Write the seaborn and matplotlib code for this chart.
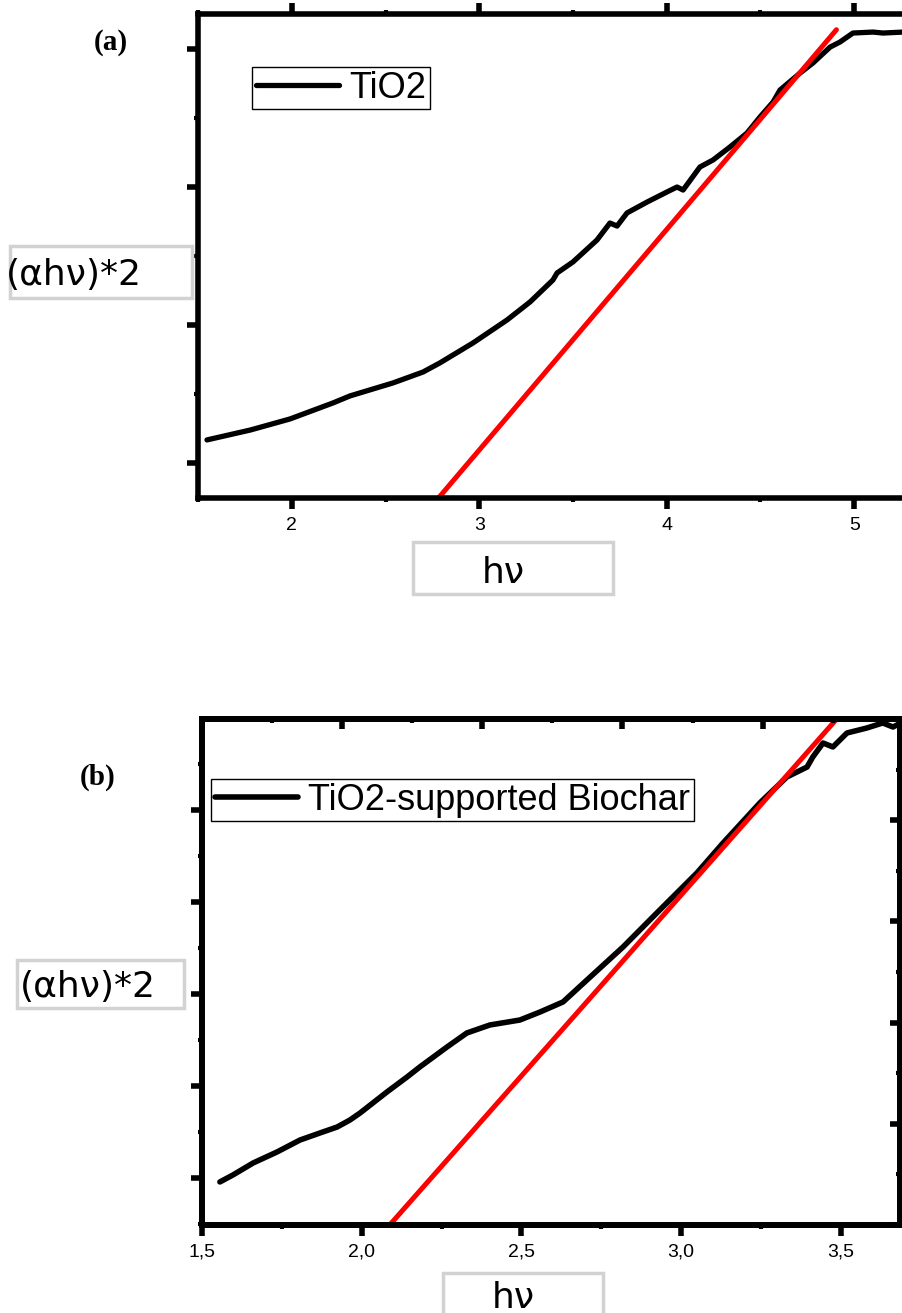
import matplotlib
matplotlib.use("Agg")
import matplotlib.pyplot as plt
import seaborn as sns
from matplotlib.ticker import MultipleLocator, NullFormatter, FixedLocator, FixedFormatter
from matplotlib.patches import Rectangle

# ---- data (y in arbitrary units, no tick labels) ----
# panel (a): TiO2
a_hv = [1.548, 1.78, 1.991, 2.220, 2.311, 2.540, 2.700, 2.79, 2.967, 3.148,
        3.271, 3.393, 3.415, 3.500, 3.628, 3.697, 3.735, 3.788, 3.895, 4.001,
        4.055, 4.087, 4.177, 4.247, 4.337, 4.428, 4.497, 4.567, 4.604, 4.711,
        4.780, 4.871, 4.924, 4.993, 5.100, 5.153, 5.260]
a_abs = [0.167, 0.239, 0.319, 0.435, 0.486, 0.580, 0.659, 0.725, 0.870, 1.036,
         1.167, 1.326, 1.377, 1.457, 1.616, 1.739, 1.717, 1.812, 1.891, 1.964,
         2.000, 1.978, 2.145, 2.196, 2.290, 2.391, 2.507, 2.616, 2.703, 2.826,
         2.899, 3.014, 3.051, 3.116, 3.123, 3.116, 3.123]
a_fit_hv = [2.76, 4.905]
a_fit_abs = [-0.29, 3.14]
a_xticks = [2, 3, 4, 5]
a_xticklabels = ["2", "3", "4", "5"]

# panel (b): TiO2-supported Biochar
b_hv = [1.556, 1.597, 1.660, 1.735, 1.807, 1.869, 1.923, 1.963, 1.995, 2.079,
        2.142, 2.182, 2.267, 2.329, 2.401, 2.495, 2.558, 2.630, 2.705, 2.818,
        2.933, 3.049, 3.131, 3.246, 3.331, 3.394, 3.412, 3.444, 3.475, 3.519,
        3.581, 3.631, 3.663, 3.694]
b_abs = [-0.043, 0.033, 0.163, 0.283, 0.413, 0.489, 0.554, 0.630, 0.707, 0.935,
         1.098, 1.207, 1.424, 1.576, 1.663, 1.717, 1.804, 1.913, 2.152, 2.511,
         2.913, 3.315, 3.641, 4.076, 4.359, 4.467, 4.576, 4.728, 4.685, 4.837,
         4.891, 4.946, 4.902, 4.957]
b_fit_hv = [2.075, 3.487]
b_fit_abs = [-0.56, 4.99]
b_xticks = [1.5, 2.0, 2.5, 3.0, 3.5]
b_xticklabels = ["1,5", "2,0", "2,5", "3,0", "3,5"]

W, H = 903, 1313

sns.set_theme(style="white")
plt.rcParams['font.family'] = ['Liberation Sans', 'DejaVu Sans']
plt.rcParams['text.color'] = 'black'
plt.rcParams['xtick.color'] = 'black'
plt.rcParams['ytick.color'] = 'black'
plt.rcParams['axes.labelcolor'] = 'black'

fig = plt.figure(figsize=(W / 100, H / 100), dpi=100)


def fig_rect(x0, y0, x1, y1):
    # pixel box -> figure fraction [left, bottom, width, height]
    return [x0 / W, 1 - y1 / H, (x1 - x0) / W, (y1 - y0) / H]


def style_spines(ax, lw=4.0):
    for s in ax.spines.values():
        s.set_linewidth(lw)
        s.set_color("black")


leg_kw = dict(bbox_transform=fig.transFigure, borderaxespad=0, loc="upper left",
              fontsize=26, frameon=True, fancybox=False, framealpha=1,
              edgecolor="black", handlelength=2.3, handletextpad=0.3,
              borderpad=0.1, labelcolor="black")

# ================= panel (a) =================
ax1 = fig.add_axes(fig_rect(198, 14, 903, 498))
sns.lineplot(x=a_hv, y=a_abs, color="black", linewidth=3.8, estimator=None,
             label="TiO2", ax=ax1)
sns.lineplot(x=a_fit_hv, y=a_fit_abs, color="red", linewidth=3.6, estimator=None,
             ax=ax1)
ax1.set_xlim(1.5, 5.26)
ax1.set_ylim(-0.254, 3.254)
style_spines(ax1)
ax1.spines["right"].set_visible(False)
ax1.xaxis.set_major_locator(FixedLocator(a_xticks))
ax1.xaxis.set_major_formatter(FixedFormatter(a_xticklabels))
ax1.xaxis.set_minor_locator(MultipleLocator(0.5))
ax1.yaxis.set_major_locator(MultipleLocator(1))
ax1.yaxis.set_minor_locator(MultipleLocator(0.5))
ax1.yaxis.set_major_formatter(NullFormatter())
ax1.tick_params(which="major", direction="out", length=8, width=4,
                top=True, bottom=True, left=True, right=False,
                labelsize=14, pad=6)
ax1.tick_params(which="minor", direction="out", length=3, width=3,
                top=True, bottom=True, left=True, right=False)
ax1.set_xlabel("")
ax1.set_ylabel("")
leg = ax1.legend(bbox_to_anchor=(252 / W, 1 - 67 / H), **leg_kw)
leg.get_frame().set_linewidth(1.0)

# ================= panel (b) =================
ax2 = fig.add_axes(fig_rect(202, 719, 900, 1225))
sns.lineplot(x=b_hv, y=b_abs, color="black", linewidth=4.0, estimator=None,
             label="TiO2-supported Biochar", ax=ax2)
sns.lineplot(x=b_fit_hv, y=b_fit_abs, color="red", linewidth=3.6, estimator=None,
             ax=ax2)
ax2.set_xlim(1.5, 3.685)
ax2.set_ylim(-0.511, 4.989)
style_spines(ax2)
ax2.xaxis.set_major_locator(FixedLocator(b_xticks))
ax2.xaxis.set_major_formatter(FixedFormatter(b_xticklabels))
ax2.xaxis.set_minor_locator(MultipleLocator(0.25))
ax2.yaxis.set_major_locator(MultipleLocator(1))
ax2.yaxis.set_minor_locator(MultipleLocator(0.5))
ax2.yaxis.set_major_formatter(NullFormatter())
ax2.tick_params(which="major", direction="out", length=8, width=4,
                top=False, right=False, labelsize=14, pad=5)
ax2.tick_params(which="minor", direction="out", length=3, width=3,
                top=False, right=False)
ax2.set_xlabel("")
ax2.set_ylabel("")
leg = ax2.legend(bbox_to_anchor=(211 / W, 1 - 779 / H), **leg_kw)
leg.get_frame().set_linewidth(1.0)

# secondary scales on top / right (ticks only, pointing inward)
ax2t = ax2.twiny()
ax2t.set_xlim(0, 4.98)
ax2t.xaxis.set_major_locator(MultipleLocator(1))
ax2t.xaxis.set_minor_locator(MultipleLocator(0.5))
ax2t.xaxis.set_major_formatter(NullFormatter())
ax2t.tick_params(which="major", direction="in", length=7, width=4)
ax2t.tick_params(which="minor", direction="in", length=3, width=3)
style_spines(ax2t)

ax2r = ax2.twinx()
ax2r.set_ylim(0, 5.0)
ax2r.yaxis.set_major_locator(MultipleLocator(1))
ax2r.yaxis.set_minor_locator(MultipleLocator(0.5))
ax2r.yaxis.set_major_formatter(NullFormatter())
ax2r.tick_params(which="major", direction="in", length=7, width=4)
ax2r.tick_params(which="minor", direction="in", length=3, width=3)
style_spines(ax2r)

# ================= labels in grey boxes =================
box_kw = dict(transform=fig.transFigure, facecolor="white",
              edgecolor="#d2d2d2", linewidth=2.5, zorder=5)
for (x0, y0, x1, y1) in [(10, 246, 192, 298), (17, 960, 184, 1008),
                         (413, 542, 613, 594), (443, 1273, 603, 1330)]:
    fig.patches.append(Rectangle((x0 / W, 1 - y1 / H), (x1 - x0) / W,
                                 (y1 - y0) / H, **box_kw))

lab_kw = dict(family=["DejaVu Sans"], fontsize=26, color="black", zorder=6,
              va="baseline")
fig.text(6 / W, 1 - 285 / H, "(αhν)*2", ha="left", **lab_kw)
fig.text(20 / W, 1 - 997 / H, "(αhν)*2", ha="left", **lab_kw)
fig.text(503 / W, 1 - 583 / H, "hν", ha="center", **lab_kw)
fig.text(513 / W, 1 - 1308 / H, "hν", ha="center", **lab_kw)

fig.text(111 / W, 1 - 42 / H, "(a)", family=["Liberation Serif"],
         fontweight="bold", fontsize=21, ha="center", va="center")
fig.text(98 / W, 1 - 777 / H, "(b)", family=["Liberation Serif"],
         fontweight="bold", fontsize=21, ha="center", va="center")

fig.savefig("out.png", dpi=100, facecolor="white")
